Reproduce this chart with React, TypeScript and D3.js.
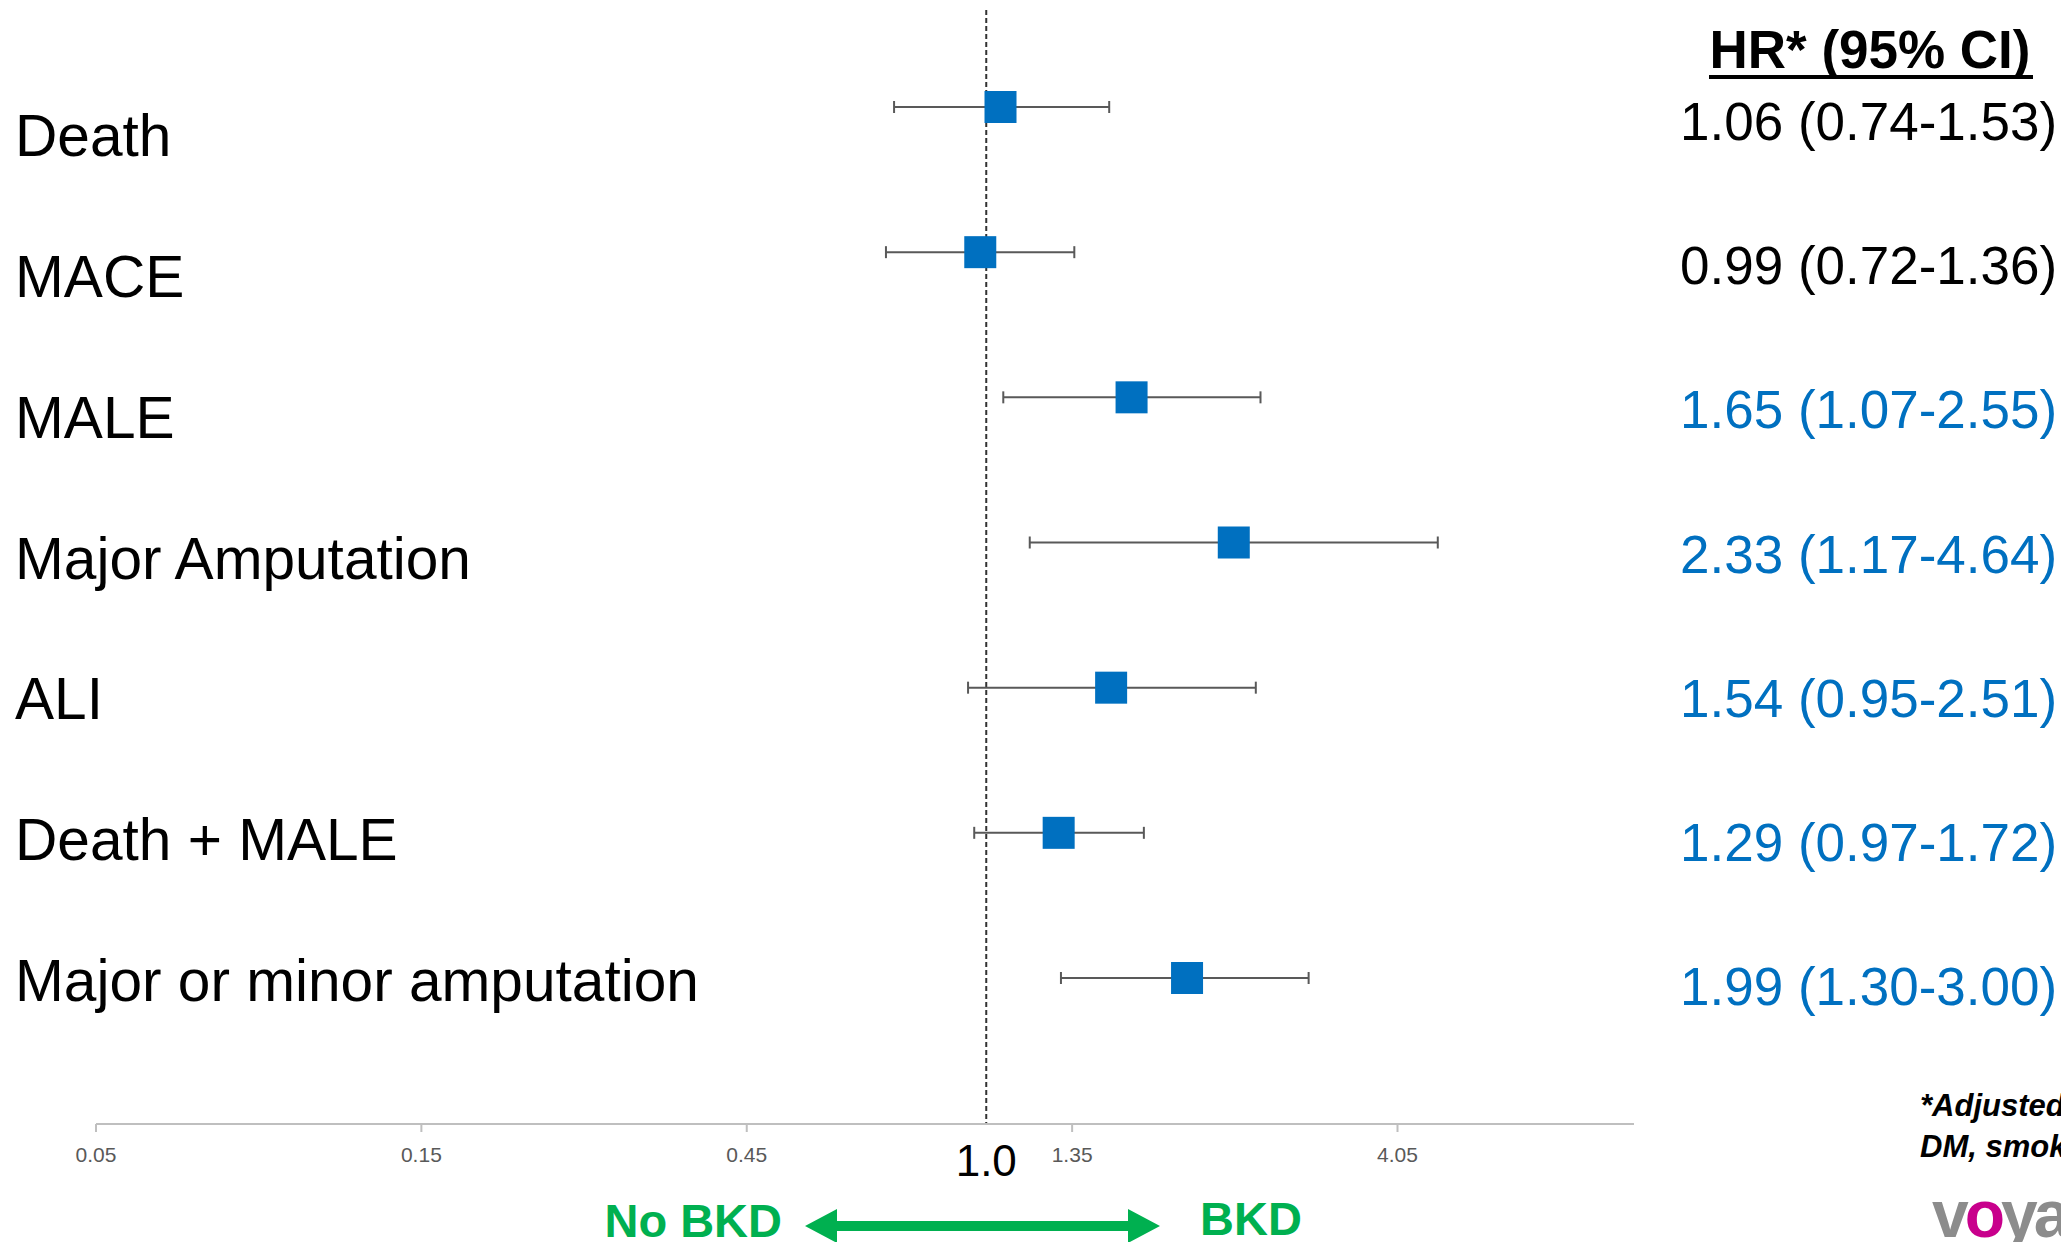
import React from "react";
import * as d3 from "d3";

const outcomes = ["Death", "MACE", "MALE", "Major Amputation", "ALI", "Death + MALE", "Major or minor amputation"];
const hr = [1.06, 0.99, 1.65, 2.33, 1.54, 1.29, 1.99];
const ciLow = [0.74, 0.72, 1.07, 1.17, 0.95, 0.97, 1.3];
const ciHigh = [1.53, 1.36, 2.55, 4.64, 2.51, 1.72, 3.0];
const significant = [false, false, true, true, true, true, true];
const tickValues = [0.05, 0.15, 0.45, 1.35, 4.05];
const tickLabels = ["0.05", "0.15", "0.45", "1.35", "4.05"];

const W = 2061;
const H = 1242;
const FONT = "'Liberation Sans', Arial, Helvetica, sans-serif";
const BLUE = "#0070C0";
const GREEN = "#00B050";

const fmt = (v: number) => v.toFixed(2);

export default function App() {
  const x = d3.scaleLog().domain([0.05, 9]).range([96, 1634]);
  const yMark = d3.scaleLinear().domain([0, outcomes.length - 1]).range([107, 978]);
  const yLabel = d3.scaleLinear().domain([0, outcomes.length - 1]).range([156, 1001]);
  const yRight = d3.scaleLinear().domain([0, outcomes.length - 1]).range([140, 1005]);
  const axisY = 1124;
  const sq = 32;
  const cap = 6;
  const x1 = x(1);

  const arrowL = 805;
  const arrowR = 1160;
  const arrowY = 1226;
  const shaft = 10;
  const headH = 34;
  const headL = 32;
  const arrowPath = [
    [arrowL, arrowY],
    [arrowL + headL, arrowY - headH / 2],
    [arrowL + headL, arrowY - shaft / 2],
    [arrowR - headL, arrowY - shaft / 2],
    [arrowR - headL, arrowY - headH / 2],
    [arrowR, arrowY],
    [arrowR - headL, arrowY + headH / 2],
    [arrowR - headL, arrowY + shaft / 2],
    [arrowL + headL, arrowY + shaft / 2],
    [arrowL + headL, arrowY + headH / 2],
  ];
  const arrowD = d3.line()(arrowPath as [number, number][]) + "Z";

  return (
    <div style={{ position: "absolute", left: 0, top: 0 }}>
      <svg width={W} height={H} style={{ display: "block", background: "#fff" }} fontFamily={FONT}>
        <rect x={0} y={0} width={W} height={H} fill="#fff" />
        {/* reference line */}
        <line x1={x1 + 3} x2={x1 + 3} y1={10} y2={axisY} stroke="#333" strokeWidth={2} strokeDasharray="5,3" />

        {/* axis */}
        <line x1={x(0.05)} x2={1634} y1={axisY} y2={axisY} stroke="#BFBFBF" strokeWidth={2} />
        {tickValues.map((t, i) => (
          <g key={t}>
            <line x1={x(t)} x2={x(t)} y1={axisY} y2={axisY + 8} stroke="#BFBFBF" strokeWidth={2} />
            <text x={x(t)} y={1162} textAnchor="middle" fontSize={21} fill="#595959">
              {tickLabels[i]}
            </text>
          </g>
        ))}
        <text x={x1 + 3} y={1176} textAnchor="middle" fontSize={44} fill="#000">1.0</text>

        {/* rows */}
        {outcomes.map((o, i) => (
          <g key={o}>
            <text x={15} y={yLabel(i)} fontSize={58.6} fill="#000">{o}</text>
            <line x1={x(ciLow[i])} x2={x(ciHigh[i])} y1={yMark(i)} y2={yMark(i)} stroke="#595959" strokeWidth={2} />
            <line x1={x(ciLow[i])} x2={x(ciLow[i])} y1={yMark(i) - cap} y2={yMark(i) + cap} stroke="#595959" strokeWidth={2} />
            <line x1={x(ciHigh[i])} x2={x(ciHigh[i])} y1={yMark(i) - cap} y2={yMark(i) + cap} stroke="#595959" strokeWidth={2} />
            <rect x={x(hr[i]) - sq / 2} y={yMark(i) - sq / 2} width={sq} height={sq} fill={BLUE} />
            <text x={1680} y={yRight(i)} fontSize={53} fill={significant[i] ? BLUE : "#000"}>
              {`${fmt(hr[i])} (${fmt(ciLow[i])}-${fmt(ciHigh[i])})`}
            </text>
          </g>
        ))}

        {/* header */}
        <text x={1870} y={68} textAnchor="middle" fontSize={53} fontWeight="bold" fill="#000">HR* (95% CI)</text>
        <rect x={1709} y={75} width={324} height={4} fill="#000" />

        {/* direction arrow */}
        <path d={arrowD} fill={GREEN} />
        <text x={782} y={1237} textAnchor="end" fontSize={47} fontWeight="bold" fill={GREEN}>No BKD</text>
        <text x={1200} y={1235} fontSize={47} fontWeight="bold" fill={GREEN}>BKD</text>

        {/* footnote */}
        <text x={1920} y={1116} fontSize={31} fontWeight="bold" fontStyle="italic" fill="#000">*Adjusted for age, sex,</text>
        <text x={1920} y={1157} fontSize={31} fontWeight="bold" fontStyle="italic" fill="#000">DM, smoking</text>

        {/* logo */}
        <text x={1932} y={1237} fontSize={66} fontWeight="bold" letterSpacing={-4}>
          <tspan fill="#8C8C8C">v</tspan>
          <tspan fill="#C8008C">o</tspan>
          <tspan fill="#8C8C8C">ya</tspan>
        </text>
      </svg>
    </div>
  );
}
